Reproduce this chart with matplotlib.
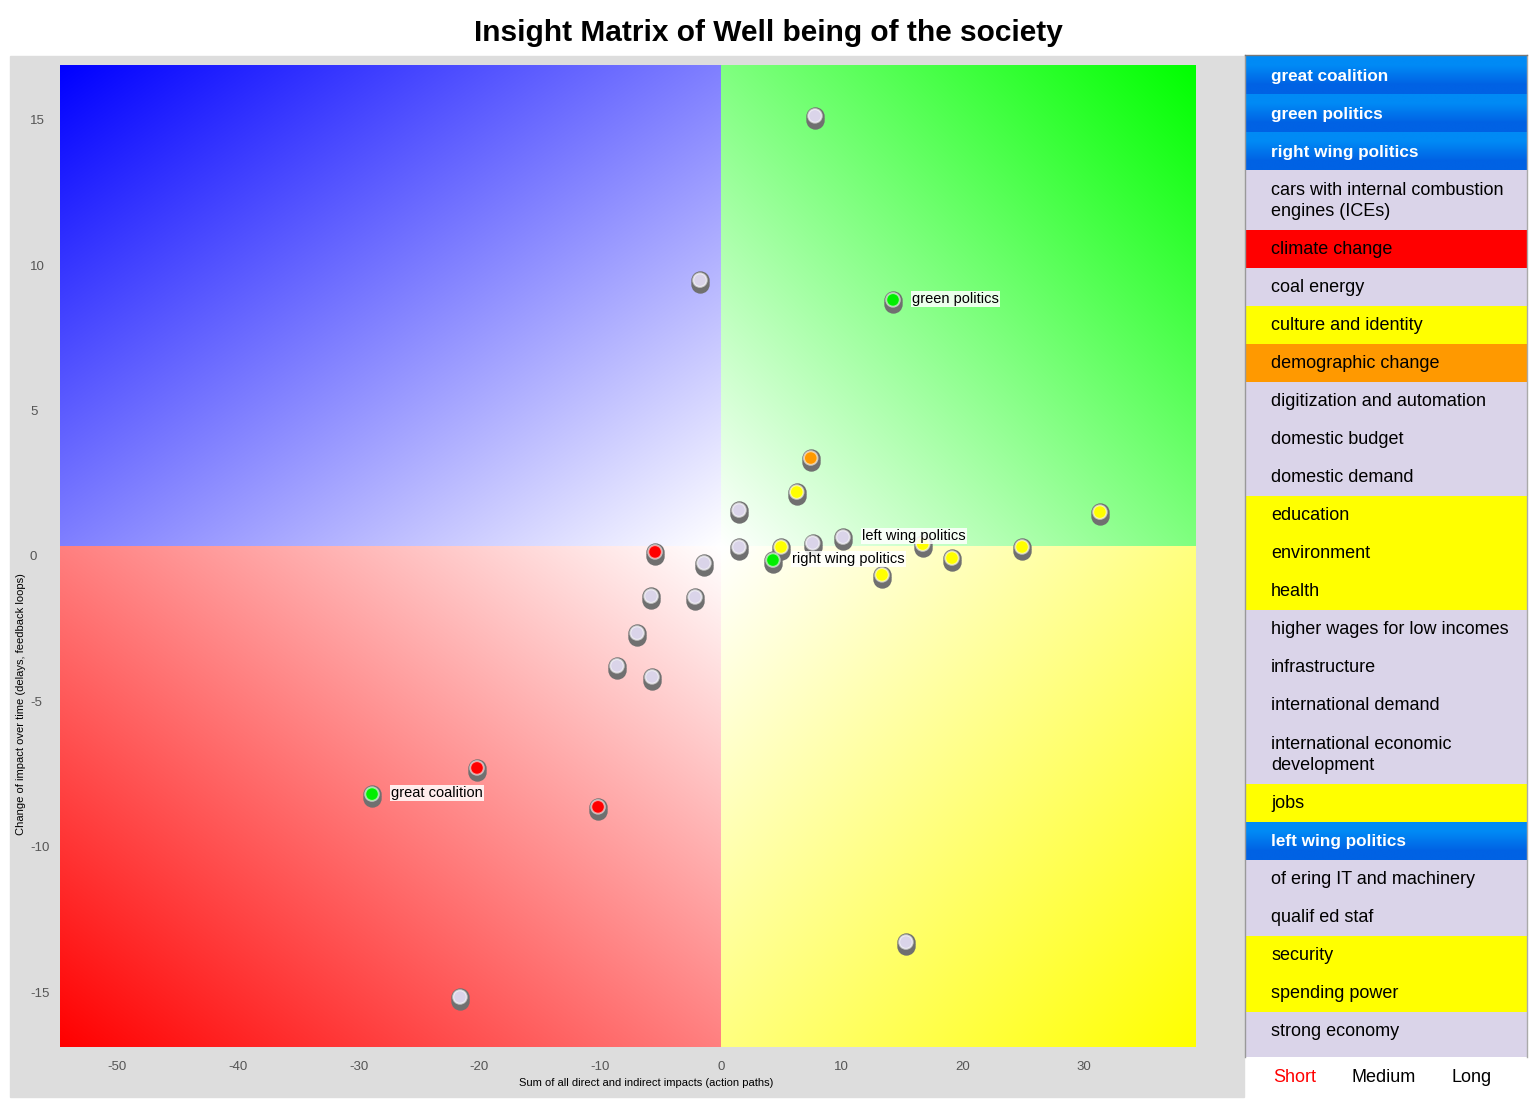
import numpy as np
import matplotlib
matplotlib.use("Agg")
import matplotlib.pyplot as plt
from matplotlib.patches import Rectangle
from matplotlib.transforms import offset_copy

plt.rcParams['font.family'] = ['Liberation Sans', 'DejaVu Sans']
plt.rcParams['axes.unicode_minus'] = False

# --- data -------------------------------------------------------------
point_x = [7.78, -1.74, 14.24, 7.43, 6.27, 1.49, 31.37, 10.10, 7.59, 16.70,
           1.49, 4.97, 24.92, -5.46, 4.30, 19.12, -1.41, 13.33, -5.79, -2.15,
           -6.95, -8.61, -5.71, -20.20, -28.89, -10.18, 15.31, -21.61]
point_y = [15.14, 9.49, 8.81, 3.37, 2.20, 1.58, 1.51, 0.65, 0.45, 0.41,
           0.31, 0.31, 0.31, 0.14, -0.14, -0.07, -0.24, -0.65, -1.38, -1.41,
           -2.65, -3.78, -4.16, -7.29, -8.19, -8.63, -13.28, -15.17]
point_kind = ['other', 'other', 'green', 'orange', 'yellow', 'other', 'yellow',
              'other', 'other', 'yellow', 'other', 'yellow', 'yellow', 'red',
              'green', 'yellow', 'other', 'yellow', 'other', 'other', 'other',
              'other', 'other', 'red', 'green', 'red', 'other', 'other']
point_label = {2: 'green politics', 7: 'left wing politics',
               14: 'right wing politics', 24: 'great coalition'}

legend_labels = ['great coalition', 'green politics', 'right wing politics',
                 'cars with internal combustion\nengines (ICEs)', 'climate change',
                 'coal energy', 'culture and identity', 'demographic change',
                 'digitization and automation', 'domestic budget', 'domestic demand',
                 'education', 'environment', 'health', 'higher wages for low incomes',
                 'infrastructure', 'international demand',
                 'international economic\ndevelopment', 'jobs', 'left wing politics',
                 'of ering IT and machinery', 'qualif ed staf', 'security',
                 'spending power', 'strong economy']
legend_kind = ['blue', 'blue', 'blue', 'other', 'red', 'other', 'yellow', 'orange',
               'other', 'other', 'other', 'yellow', 'yellow', 'yellow', 'other',
               'other', 'other', 'other', 'yellow', 'blue', 'other', 'other',
               'yellow', 'yellow', 'other']

x_ticks = [-50, -40, -30, -20, -10, 0, 10, 20, 30]
y_ticks = [-15, -10, -5, 0, 5, 10, 15]
horizons = ['Short', 'Medium', 'Long']

colors = {'other': '#dad4e9', 'red': '#ff0000', 'yellow': '#ffff00',
          'orange': '#ff9900', 'green': '#00ee00'}

# --- figure -----------------------------------------------------------
W, H = 1534, 1101
fig = plt.figure(figsize=(W / 100, H / 100), dpi=100, facecolor='white')


def fx(px):
    return px / W


def fy(py):
    return 1 - py / H


# grey panel behind the matrix
fig.patches.append(Rectangle((fx(10), fy(1097)), (1244 - 10) / W, (1097 - 56) / H,
                             transform=fig.transFigure, color='#dddddd', zorder=-5))

fig.text(fx(768), fy(33), 'Insight Matrix of Well being of the society',
         ha='center', va='center', fontsize=21.5, weight='bold')

ax = fig.add_axes([fx(60), fy(1047), (1195 - 60) / W, (1047 - 65) / H])
xmin, xmax = -54.72, 39.24
ymin, ymax = -16.89, 16.89
ysplit = 0.31
for s in ax.spines.values():
    s.set_visible(False)
ax.patch.set_alpha(0)

# quadrant gradients: white at the centre, full colour at the outer corner
n = 300
g = np.linspace(0, 1, n)
U, V = np.meshgrid(g, g)
quads = [((0, 0, 1), (xmin, 0, ysplit, ymax), True, False),
         ((0, 1, 0), (0, xmax, ysplit, ymax), False, False),
         ((1, 0, 0), (xmin, 0, ymin, ysplit), True, True),
         ((1, 1, 0), (0, xmax, ymin, ysplit), False, True)]
for corner, ext, flip_x, flip_y in quads:
    u = U[:, ::-1] if flip_x else U
    v = V[::-1, :] if flip_y else V
    t = (u + v) / 2
    img = np.ones((n, n, 3))
    for c in range(3):
        img[:, :, c] = (1 - t) + t * corner[c]
    ax.imshow(img, extent=ext, origin='lower', aspect='auto',
              interpolation='bilinear', zorder=0)
ax.set_xlim(xmin, xmax)
ax.set_ylim(ymin, ymax)

ax.set_xticks(x_ticks)
ax.set_yticks(y_ticks)
ax.tick_params(length=0, labelsize=9.5, labelcolor='#555555')
ax.tick_params(axis='x', pad=10)
ax.tick_params(axis='y', pad=21.6)
for lab in ax.get_yticklabels():
    lab.set_ha('left')

fig.text(fx(646), fy(1083), 'Sum of all direct and indirect impacts (action paths)',
         ha='center', va='center', fontsize=8)
fig.text(fx(21), fy(704), 'Change of impact over time (delays, feedback loops)',
         ha='center', va='center', fontsize=8, rotation=90)

# cylinder-like markers
face = [colors[k] for k in point_kind]
shadow = offset_copy(ax.transData, fig=fig, x=0, y=-4, units='dots')
ax.scatter(point_x, point_y, s=175, c='#707070', lw=0, transform=shadow, zorder=3)
ax.scatter(point_x, point_y, s=175, c='#707070', lw=0, zorder=3)
ax.scatter(point_x, point_y, s=95, c=face, edgecolors=(1, 1, 1, 0.6),
           linewidths=1.4, zorder=4)

for i, txt in point_label.items():
    ax.annotate(txt, (point_x[i], point_y[i]), xytext=(19, 1),
                textcoords='offset pixels', ha='left', va='center', fontsize=10.5,
                bbox=dict(boxstyle='square,pad=0.08', fc=(1, 1, 1, 0.85), ec='none'),
                zorder=5)

# --- legend panel -----------------------------------------------------
lw_px, lh_px = 282, 1002
lax = fig.add_axes([fx(1245), fy(1057), lw_px / W, lh_px / H])
lax.set_xticks([])
lax.set_yticks([])
lax.spines['bottom'].set_visible(False)
lax.spines['top'].set_color('#777777')
lax.spines['left'].set_color('#999999')
lax.spines['right'].set_color('#aaaaaa')
for s in ('top', 'left', 'right'):
    lax.spines[s].set_linewidth(1)

blue_grad = np.array([[[0, 138, 245]], [[0, 98, 228]]]) / 255
y0 = 1
for i, (lab, kind) in enumerate(zip(legend_labels, legend_kind)):
    nl = lab.count('\n')
    h = 38 + 22 * nl
    if i == len(legend_labels) - 1:
        h = lh_px - y0
    yc = y0 + 20 + 11 * nl
    if kind == 'blue':
        lax.imshow(blue_grad, extent=(0, lw_px, y0 + h, y0), aspect='auto',
                   interpolation='bilinear', zorder=1)
        lax.text(26, yc, lab, color='white', weight='bold', fontsize=12.3,
                 va='center', ha='left', zorder=2)
    else:
        lax.add_patch(Rectangle((0, y0), lw_px, h, color=colors[kind], lw=0, zorder=1))
        lax.text(26, yc, lab, color='black', fontsize=13, va='center', ha='left',
                 zorder=2, linespacing=1.35)
    y0 += h
lax.set_xlim(0, lw_px)
lax.set_ylim(lh_px, 0)

for lab, cx, col in zip(horizons, [1295, 1384, 1472], ['red', 'black', 'black']):
    fig.text(fx(cx), fy(1077), lab, ha='center', va='center', fontsize=13, color=col)

fig.savefig('out.png', dpi=100, facecolor='white')
